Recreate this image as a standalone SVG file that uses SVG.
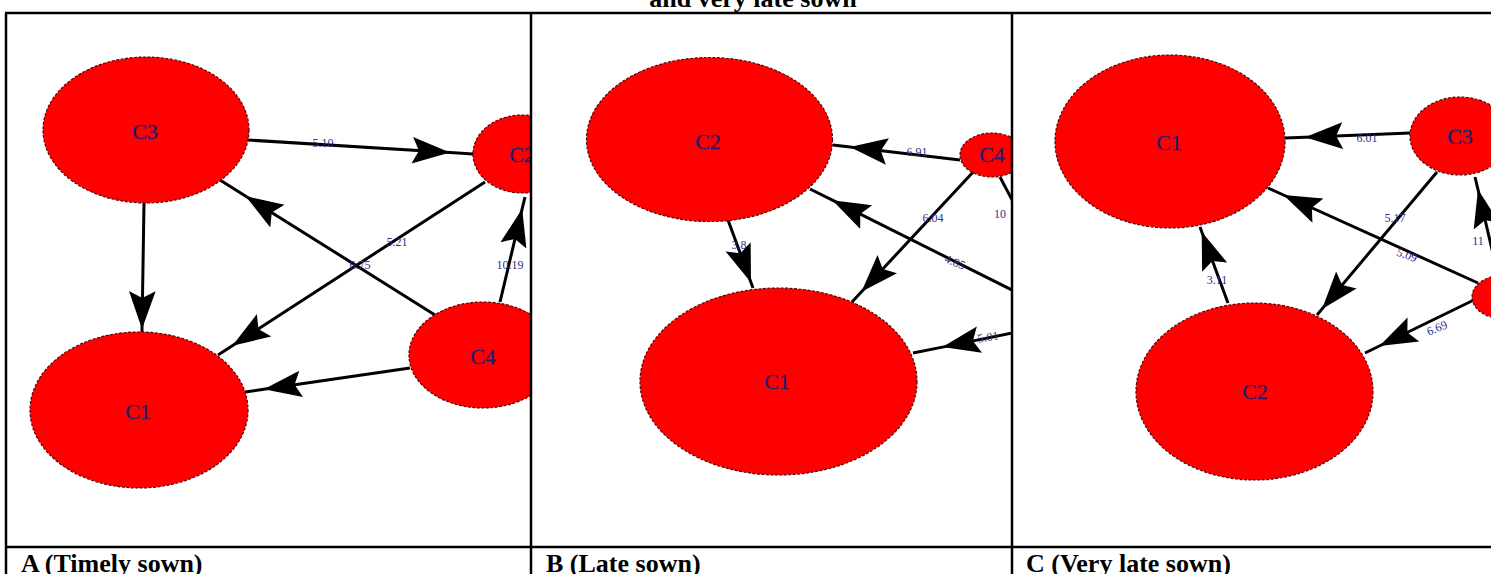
<svg xmlns="http://www.w3.org/2000/svg" width="1491" height="574" viewBox="0 0 1491 574">
<style>
.node{fill:#ff0000;stroke:#5a0000;stroke-width:1.2;stroke-dasharray:3 1.5}
.nl{font-family:"Liberation Serif",serif;font-size:22px;fill:#1e1e6e;stroke:#1e1e6e;stroke-width:0.3;text-anchor:middle}
.el{font-family:"Liberation Serif",serif;font-size:12px;fill:#2e2e8a;text-anchor:middle}
.edge{fill:none;stroke:#000;stroke-width:3;marker-mid:url(#ah)}
.line{fill:none;stroke:#000;stroke-width:3}
.grid{stroke:#000;stroke-width:2.5;fill:none}
.cap{font-family:"Liberation Serif",serif;font-size:26px;font-weight:bold;fill:#000}
</style>
<defs>
<marker id="ah" markerUnits="userSpaceOnUse" markerWidth="40" markerHeight="30" refX="34" refY="13" orient="auto" viewBox="0 0 36 26">
<path d="M0,1 L34,13 L0,25 L6,13 z" fill="#000"/>
</marker>
<clipPath id="cA"><rect x="7" y="14" width="523" height="532"/></clipPath>
<clipPath id="cB"><rect x="532" y="14" width="479" height="532"/></clipPath>
<clipPath id="cC"><rect x="1013" y="14" width="478" height="532"/></clipPath>
</defs>
<rect width="1491" height="574" fill="#fff"/>
<text class="cap" x="753" y="7" text-anchor="middle">and very late sown</text>

<!-- Panel A -->
<g clip-path="url(#cA)">
<g id="edgesA">
<path class="edge" d="M248,140 L450,152.6 L473,154"/>
<path class="edge" d="M144,203 L142,329 L142,332"/>
<path class="edge" d="M435,315 L245.4,196 L220,180"/>
<path class="edge" d="M485,182 L232.3,345.8 L218,355"/>
<path class="edge" d="M410,368 L263.8,389.3 L245,392"/>
<path class="edge" d="M500,302 L522.2,208.7 L525,197"/>
<text class="el" x="323" y="147">5.10</text>
<text class="el" x="360" y="269">6.75</text>
<text class="el" x="397" y="246">5.21</text>
<text class="el" x="510" y="269">10.19</text>
</g>
<g id="A_C3"><ellipse class="node" cx="146" cy="130" rx="103" ry="73"/><text class="nl" x="145" y="139">C3</text></g>
<g id="A_C2"><ellipse class="node" cx="522" cy="154" rx="49" ry="39"/><text class="nl" x="522" y="162">C2</text></g>
<g id="A_C4"><ellipse class="node" cx="483" cy="355" rx="74" ry="53"/><text class="nl" x="483" y="364">C4</text></g>
<g id="A_C1"><ellipse class="node" cx="139" cy="410" rx="109" ry="78"/><text class="nl" x="138" y="419">C1</text></g>
</g>

<!-- Panel B -->
<g clip-path="url(#cB)">
<g id="edgesB">
<path class="edge" d="M960,160 L849.9,147 L833,145"/>
<path class="edge" d="M728,220 L751,282.4 L753,288"/>
<path class="edge" d="M975,170 L861.5,291.8 L852,302"/>
<path class="edge" d="M1030,299 L832.4,200.2 L810,189"/>
<path class="edge" d="M1030,329.4 L942.4,347.1 L913,353"/>
<path class="line" d="M1000,177 L1020,215"/>
<text class="el" x="917" y="156">6.91</text>
<text class="el" x="739" y="249">3.8</text>
<text class="el" x="933" y="222">6.04</text>
<text class="el" x="955" y="266" transform="rotate(22 955 262)">4.85</text>
<text class="el" x="988" y="341" transform="rotate(-10 988 337)">5.01</text>
<text class="el" x="1000" y="218" text-anchor="start">10</text>
</g>
<g id="B_C2"><ellipse class="node" cx="709.5" cy="139.5" rx="123" ry="82"/><text class="nl" x="708" y="149">C2</text></g>
<g id="B_C4"><ellipse class="node" cx="992" cy="155" rx="32" ry="22"/><text class="nl" x="992" y="162">C4</text></g>
<g id="B_C1"><ellipse class="node" cx="778.5" cy="381.5" rx="138.5" ry="93.5"/><text class="nl" x="777" y="389">C1</text></g>
</g>

<!-- Panel C -->
<g clip-path="url(#cC)">
<g id="edgesC">
<path class="edge" d="M1410,133 L1305,137.2 L1285,138"/>
<path class="edge" d="M1228,303 L1201.7,231.7 L1200,227"/>
<path class="edge" d="M1478,283 L1283.5,195 L1268,188"/>
<path class="edge" d="M1437,172 L1322.1,308.9 L1317,315"/>
<path class="edge" d="M1498,275 L1478,189.6 L1475,177"/>
<path class="edge" d="M1480,297 L1379.4,346 L1365,353"/>
<text class="el" x="1367" y="142">6.01</text>
<text class="el" x="1217" y="284">3.11</text>
<text class="el" x="1395" y="222">5.17</text>
<text class="el" x="1407" y="259" transform="rotate(20 1407 255)">5.09</text>
<text class="el" x="1437" y="332" transform="rotate(-22 1437 328)">6.69</text>
<text class="el" x="1478" y="245" text-anchor="start">11</text>
</g>
<g id="C_C1"><ellipse class="node" cx="1170" cy="141.5" rx="115" ry="86.5"/><text class="nl" x="1169" y="150">C1</text></g>
<g id="C_C3"><ellipse class="node" cx="1460" cy="136" rx="50" ry="39"/><text class="nl" x="1460" y="144">C3</text></g>
<g id="C_C4"><ellipse class="node" cx="1504" cy="297" rx="32" ry="22"/></g>
<g id="C_C2"><ellipse class="node" cx="1254.5" cy="391.5" rx="118.5" ry="88.5"/><text class="nl" x="1255" y="399">C2</text></g>
</g>

<!-- table grid -->
<g id="grid">
<path class="grid" d="M5,13 H1491 M6,13 V574 M531,13 V574 M1012,13 V574 M5,547 H1491"/>
</g>
<text class="cap" x="21" y="572">A (Timely sown)</text>
<text class="cap" x="546" y="572">B (Late sown)</text>
<text class="cap" x="1026" y="572">C (Very late sown)</text>
</svg>
